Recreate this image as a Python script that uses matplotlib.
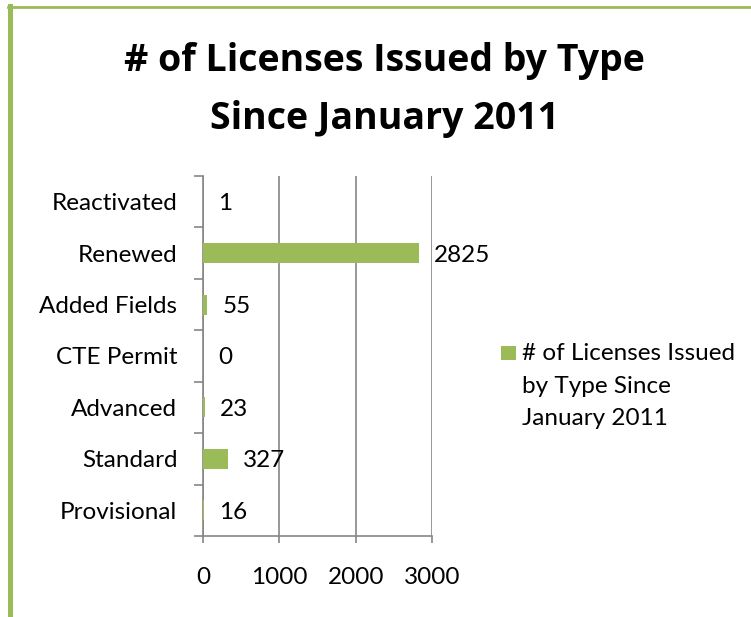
import matplotlib
matplotlib.use("Agg")
import matplotlib.pyplot as plt
from matplotlib.patches import Rectangle

categories = ["Provisional", "Standard", "Advanced", "CTE Permit", "Added Fields", "Renewed", "Reactivated"]
values = [16, 327, 23, 0, 55, 2825, 1]
xticks = [0, 1000, 2000, 3000]
series_lines = ["# of Licenses Issued", "by Type Since", "January 2011"]
title_lines = ["# of Licenses Issued by Type", "Since January 2011"]

GREEN = "#9BBB59"
GRAY = "#868686"
plt.rcParams['font.family'] = ['Lato', 'DejaVu Sans']

W, H = 751, 617
fig = plt.figure(figsize=(W/100, H/100), dpi=100)

def fx(px):
    return px / W

def fy(py):
    return 1 - py / H

# border lines (left and top)
fig.add_artist(plt.Line2D([fx(9.5), fx(9.5)], [0, fy(6)], color=GREEN, lw=3.6, transform=fig.transFigure))
fig.add_artist(plt.Line2D([fx(7.5), 1], [fy(7), fy(7)], color=GREEN, lw=2.0, transform=fig.transFigure))

x0, x1 = 203, 432
y0, y1 = 536, 176
ax = fig.add_axes([fx(x0), fy(y0), (x1 - x0)/W, (y0 - y1)/H])

pos = list(range(len(categories)))
ax.barh(pos, values, height=0.39, color=GREEN, zorder=3)
ax.set_xlim(0, 3000)
ax.set_ylim(-0.5, len(categories) - 0.5)
ax.set_xticks(xticks)
ax.set_xticklabels([str(t) for t in xticks], fontsize=17.5)
ax.set_yticks(pos)
ax.set_yticklabels(categories, fontsize=17.5)
ax.set_yticks([p - 0.5 for p in range(len(categories) + 1)], minor=True)
ax.tick_params(axis='y', which='major', length=0, pad=18.5)
ax.tick_params(axis='y', which='minor', length=6.5, color=GRAY, width=1.2)
ax.tick_params(axis='x', which='major', length=5, color=GRAY, width=1.2, pad=17)
ax.grid(axis='x', color=GRAY, lw=1.2, zorder=0)
for s in ['top', 'right']:
    ax.spines[s].set_visible(False)
for s in ['left', 'bottom']:
    ax.spines[s].set_color(GRAY)
    ax.spines[s].set_linewidth(1.2)

for p, v in zip(pos, values):
    ax.annotate(str(v), xy=(v, p), xytext=(15, -2), textcoords='offset pixels',
                va='center', ha='left', fontsize=17.5, color='black', zorder=5)

# title (two lines, explicit baselines)
for line, base in zip(title_lines, [71, 129]):
    fig.text(fx(384), fy(base), line, ha='center', va='baseline', fontsize=27,
             fontweight='bold', family=['Open Sans', 'DejaVu Sans'])

# legend
fig.add_artist(Rectangle((fx(501), fy(360)), 15/W, 14/H, facecolor=GREEN, edgecolor='none',
                         transform=fig.transFigure))
for line, base in zip(series_lines, [360, 393, 425]):
    fig.text(fx(522), fy(base), line, ha='left', va='baseline', fontsize=17.5)

fig.savefig("out.png", dpi=100)
